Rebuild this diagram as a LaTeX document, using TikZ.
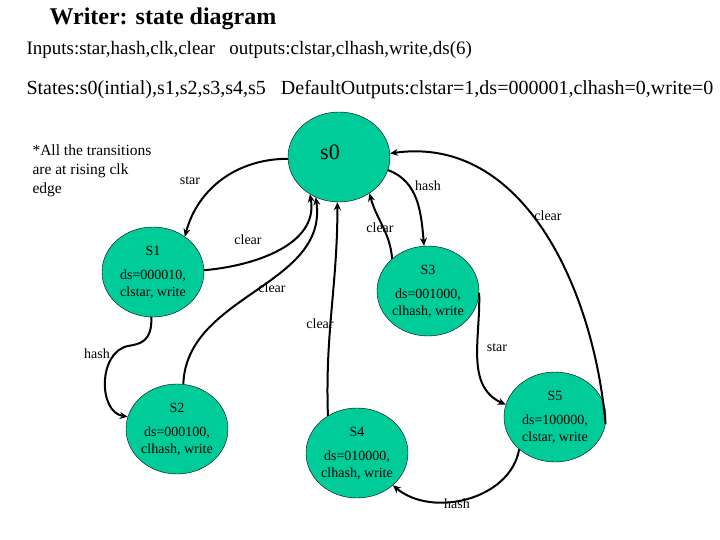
\documentclass[tikz,border=0pt]{standalone}
\usepackage{fontspec}
\setmainfont{Liberation Serif}
\usetikzlibrary{shapes.geometric,arrows.meta}
\definecolor{stategreen}{RGB}{0,204,153}
\begin{document}
\begin{tikzpicture}[x=1pt,y=-1pt,>={Stealth[length=8pt,width=7pt]},
  state/.style={ellipse, draw, fill=stategreen, minimum width=102pt, minimum height=90pt, inner sep=0pt, align=center, font=\fontsize{14}{17}\selectfont},
  trans/.style={->, line width=2pt},
  lbl/.style={font=\fontsize{14}{16}\selectfont, inner sep=1pt}]
\useasboundingbox (0,0) rectangle (720,540);
\node[anchor=west, font=\fontsize{24}{26}\selectfont\bfseries] (title) at (46,19) {Writer: state diagram};
\node[anchor=west, font=\fontsize{19}{22}\selectfont] (io) at (23,50) {Inputs:star,hash,clk,clear\ \ \ outputs:clstar,clhash,write,ds(6)};
\node[anchor=west, font=\fontsize{20}{22}\selectfont] (defs) at (23,90) {States:s0(intial),s1,s2,s3,s4,s5\ \ \ DefaultOutputs:clstar=1,ds=000001,clhash=0,write=0};
\node[anchor=north west, align=left, font=\fontsize{15.5}{19}\selectfont] (note) at (29,141) {*All the transitions\\are at rising clk\\edge};
\node[state] (s0) at (339,157) {};
\node[font=\fontsize{22}{24}\selectfont] (s0name) at (330,152) {s0};
\node[state] (s1) at (153,272) {S1\\[7pt]ds=000010,\\clstar, write};
\node[state] (s2) at (177,429) {S2\\[7pt]ds=000100,\\clhash, write};
\node[state] (s3) at (428,291) {S3\\[7pt]ds=001000,\\clhash, write};
\node[state] (s4) at (357,453) {S4\\[7pt]ds=010000,\\clhash, write};
\node[state] (s5) at (555,417) {S5\\[7pt]ds=100000,\\clstar, write};
\draw[trans] (s0.182) to[out=180,in=75] (s1.48);
\draw[trans] (s1.2) to[out=5,in=-80] (s0.232);
\draw[trans] (s1.268) .. controls (152,342) and (140,344) .. (128,346) .. controls (98,352) and (98,412) .. (s2.166);
\draw[trans] (s2.82) to[out=88,in=-82] (s0.240);
\draw[trans] (s0.-15) to[out=-20,in=95] (s3.95);
\draw[trans] (s3.138) to[out=95,in=-75] (s0.-50);
\draw[trans] (s4.128) to[out=92,in=-90] (s0.268);
\draw[trans] (s3.-2) to[out=-88,in=155] (s5.166);
\draw[trans] (s5.-8) to[out=95,in=8] (s0.4);
\draw[trans] (s5.222) to[out=-100,in=-40] (s4.-42);
\node[lbl] (l1) at (190,181) {star};
\node[lbl] (l2) at (248,240) {clear};
\node[lbl] (l3) at (97,354) {hash};
\node[lbl] (l4) at (272,288) {clear};
\node[lbl] (l5) at (428,186) {hash};
\node[lbl] (l6) at (380,228) {clear};
\node[lbl] (l7) at (320,324) {clear};
\node[lbl] (l8) at (497,348) {star};
\node[lbl] (l9) at (548,216) {clear};
\node[lbl] (l10) at (457,504) {hash};
\end{tikzpicture}
\end{document}
